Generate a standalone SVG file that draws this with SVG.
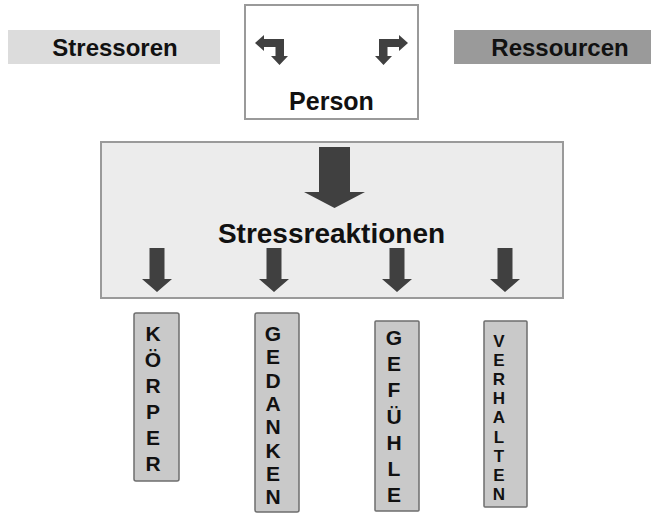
<svg xmlns="http://www.w3.org/2000/svg" width="655" height="514" viewBox="0 0 655 514">
<style>
text{font-family:"Liberation Sans",Arial,sans-serif;font-weight:bold;fill:#111}
.lbl{font-size:24px;text-anchor:middle}
.col{fill:#c9c9c9;stroke:#6e6e6e;stroke-width:1.5}
.arr{fill:#404040}
.ltr{font-size:21px;text-anchor:middle}
</style>
<rect width="655" height="514" fill="#fff"/>
<g id="stressoren">
<rect x="8" y="30" width="212" height="34" fill="#dcdcdc"/>
<text class="lbl" x="115" y="56">Stressoren</text>
</g>
<g id="ressourcen">
<rect x="454" y="30" width="197" height="34" fill="#9a9a9a"/>
<text class="lbl" x="560" y="56">Ressourcen</text>
</g>
<g id="person">
<rect x="245" y="5" width="173" height="114" fill="#fff" stroke="#9a9a9a" stroke-width="2"/>
<text x="331.5" y="110" style="font-size:25px;text-anchor:middle">Person</text>
</g>
<g id="stressreaktionen">
<rect x="101" y="142" width="462" height="156" fill="#ececec" stroke="#9a9a9a" stroke-width="2"/>
<text x="331.5" y="243" style="font-size:28px;text-anchor:middle">Stressreaktionen</text>
</g>
<g id="koerper">
<rect class="col" x="134" y="313" width="45" height="168" rx="2"/>
<text class="ltr"><tspan x="153" y="341">K</tspan><tspan x="153" y="367">Ö</tspan><tspan x="153" y="393">R</tspan><tspan x="153" y="419">P</tspan><tspan x="153" y="445">E</tspan><tspan x="153" y="471">R</tspan></text>
</g>
<g id="gedanken">
<rect class="col" x="255" y="313" width="44" height="199" rx="2"/>
<text class="ltr"><tspan x="273" y="341">G</tspan><tspan x="273" y="364">E</tspan><tspan x="273" y="388">D</tspan><tspan x="273" y="411">A</tspan><tspan x="273" y="434">N</tspan><tspan x="273" y="458">K</tspan><tspan x="273" y="481">E</tspan><tspan x="273" y="504">N</tspan></text>
</g>
<g id="gefuehle">
<rect class="col" x="375" y="321" width="44" height="190" rx="1"/>
<text class="ltr"><tspan x="394" y="345">G</tspan><tspan x="394" y="371">E</tspan><tspan x="394" y="397">F</tspan><tspan x="394" y="424">Ü</tspan><tspan x="394" y="450">H</tspan><tspan x="394" y="476">L</tspan><tspan x="394" y="502">E</tspan></text>
</g>
<g id="verhalten">
<rect class="col" x="484" y="321" width="43" height="186" rx="1"/>
<text class="ltr" style="font-size:17px"><tspan x="499" y="347">V</tspan><tspan x="499" y="366">E</tspan><tspan x="499" y="385">R</tspan><tspan x="499" y="404">H</tspan><tspan x="499" y="423">A</tspan><tspan x="499" y="443">L</tspan><tspan x="499" y="462">T</tspan><tspan x="499" y="481">E</tspan><tspan x="499" y="500">N</tspan></text>
</g>
<g id="connectors">
<polygon class="arr" points="255,43 264,35 264,39 284,39 284,56 288,56 279.5,65 271,56 275.5,56 275.5,47 264,47 264,51"/>
<polygon class="arr" points="408,43 399,35 399,39 379,39 379,56 375,56 383.5,65 392,56 387.5,56 387.5,47 399,47 399,51"/>
<polygon class="arr" points="319,147 350,147 350,192 365,192 334.5,208 304,192 319,192"/>
<polygon class="arr" points="149.5,248 164.5,248 164.5,279 172,279 157,292 142,279 149.5,279"/>
<polygon class="arr" points="266.5,248 281.5,248 281.5,279 289,279 274,292 259,279 266.5,279"/>
<polygon class="arr" points="389.5,248 404.5,248 404.5,279 412,279 397,292 382,279 389.5,279"/>
<polygon class="arr" points="497.5,248 512.5,248 512.5,279 520,279 505,292 490,279 497.5,279"/>
</g>
</svg>
